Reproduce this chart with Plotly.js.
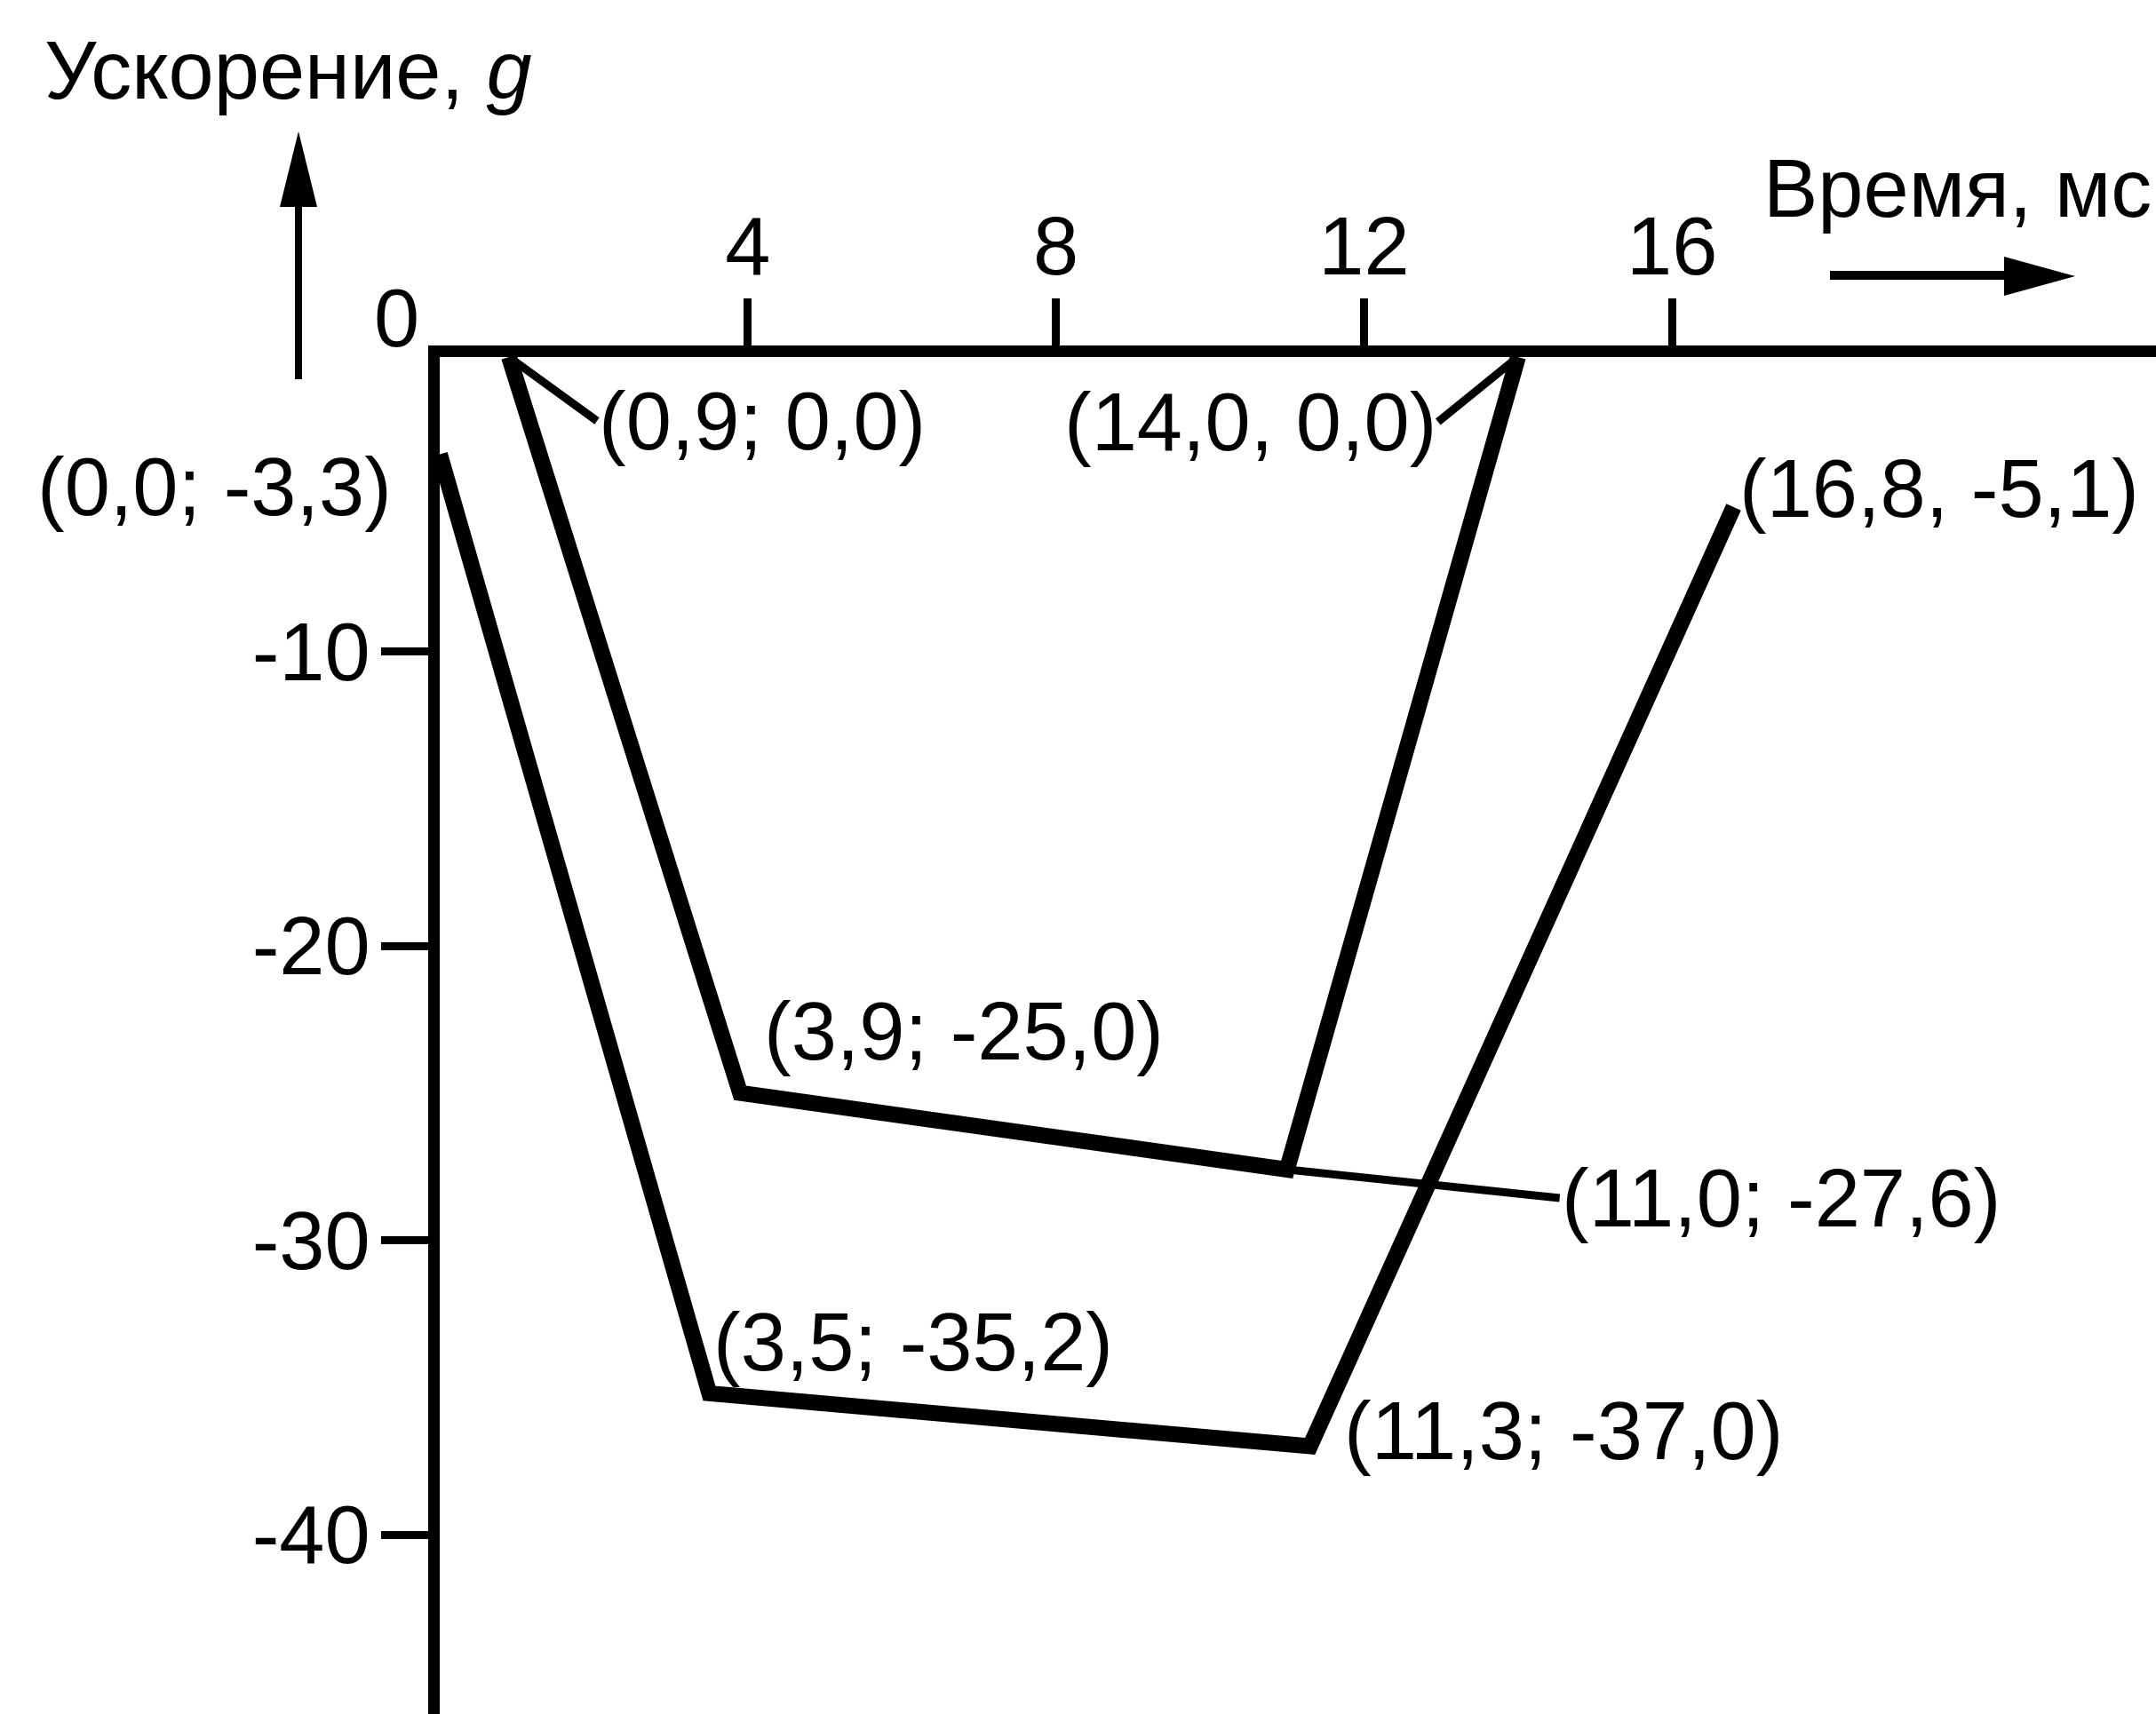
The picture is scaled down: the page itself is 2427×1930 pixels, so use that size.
<!DOCTYPE html>
<html>
<head>
<meta charset="utf-8">
<script src="https://cdn.plot.ly/plotly-3.0.1.min.js"></script>
<style>
  html, body { margin: 0; padding: 0; background: #fff; }
  #chart { width: 2427px; height: 1930px; }
</style>
</head>
<body>
<div id="chart"></div>
<script>
// outer pulse: starts at t = 0
const outerT = [0.0, 3.5, 11.3, 16.8];
const outerG = [-3.3, -35.2, -37.0, -5.1];
const outerLabels = ["(0,0; -3,3)", "(3,5; -35,2)", "(11,3; -37,0)", "(16,8, -5,1)"];

// inner pulse: starts at t = 0.9
const innerT = [0.9, 3.9, 11.0, 14.0];
const innerG = [0.0, -25.0, -27.6, 0.0];
const innerLabels = ["(0,9; 0,0)", "(3,9; -25,0)", "(11,0; -27,6)", "(14,0, 0,0)"];

const xTicks = [4, 8, 12, 16];
const yTicks = [-10, -20, -30, -40];

const W = 2427, H = 1930;
const L = 495, T = 402;          // plot area = the quadrant t >= 0, g <= 0
const PX_PER_MS = 86.7, PX_PER_G = 33.15;
const FONT = { family: "Liberation Sans, Arial, sans-serif", size: 92, color: "black" };

// pixel -> paper helpers for the decorations drawn outside the axes
const fx = (px) => (px - L) / (W - L);
const fy = (py) => (H - py) / (H - T);

// where each point label sits relative to its point (pixels)
const outerPlace = [
  { xanchor: "right", xshift: -52, yshift: -37 },
  { xanchor: "left", xshift: 3, yshift: 58 },
  { xanchor: "left", xshift: 36, yshift: 18 },
  { xanchor: "left", xshift: 4, yshift: 21 },
];
const innerPlace = [
  { xanchor: "left", ax: 99, ay: 72 },
  { xanchor: "left", xshift: 25, yshift: 70 },
  { xanchor: "left", ax: 307, ay: 32 },
  { xanchor: "right", ax: -90, ay: 73 },
];

function pointLabels(ts, gs, labels, place) {
  return ts.map((t, i) => {
    const p = place[i];
    const a = {
      x: t, y: gs[i], xref: "x", yref: "y",
      text: labels[i], font: FONT,
      xanchor: p.xanchor, yanchor: "middle",
      showarrow: false,
    };
    if (p.ax !== undefined) {
      Object.assign(a, {
        showarrow: true, ax: p.ax, ay: p.ay, arrowhead: 0,
        arrowwidth: 9, arrowcolor: "black", standoff: 6,
      });
    } else {
      a.xshift = p.xshift;
      a.yshift = p.yshift;
    }
    return a;
  });
}

const annotations = [
  ...pointLabels(outerT, outerG, outerLabels, outerPlace),
  ...pointLabels(innerT, innerG, innerLabels, innerPlace),
  { x: fx(446), y: fy(358), xref: "paper", yref: "paper", text: "0", font: FONT, showarrow: false, xanchor: "center", yanchor: "middle" },
  { x: fx(48), y: fy(79), xref: "paper", yref: "paper", text: "Ускорение, <i>g</i>", font: FONT, showarrow: false, xanchor: "left", yanchor: "middle" },
  { x: fx(2424), y: fy(212), xref: "paper", yref: "paper", text: "Время, мс", font: FONT, showarrow: false, xanchor: "right", yanchor: "middle" },
];

const shapes = [
  // up arrow next to the g title
  { type: "line", xref: "paper", yref: "paper", x0: fx(336), x1: fx(336), y0: fy(427), y1: fy(225), line: { color: "black", width: 8 } },
  { type: "path", xref: "paper", yref: "paper", fillcolor: "black", line: { width: 0 },
    path: `M${fx(315)},${fy(233)} L${fx(336)},${fy(148)} L${fx(357)},${fy(233)} Z` },
  // right arrow under the time title
  { type: "line", xref: "paper", yref: "paper", x0: fx(2060), x1: fx(2262), y0: fy(310), y1: fy(310), line: { color: "black", width: 10 } },
  { type: "path", xref: "paper", yref: "paper", fillcolor: "black", line: { width: 0 },
    path: `M${fx(2256)},${fy(289)} L${fx(2336)},${fy(311)} L${fx(2256)},${fy(333)} Z` },
];

const lineStyle = { color: "black", width: 18 };
const traces = [
  { x: outerT, y: outerG, mode: "lines", line: lineStyle, cliponaxis: false, hoverinfo: "skip" },
  { x: innerT, y: innerG, mode: "lines", line: lineStyle, cliponaxis: false, hoverinfo: "skip" },
];

const axisCommon = {
  showline: true, linewidth: 13, linecolor: "black",
  ticks: "outside", ticklen: 53, tickwidth: 9, tickcolor: "black",
  tickfont: FONT, showgrid: false, zeroline: false, fixedrange: true,
};

const layout = {
  width: W, height: H,
  margin: { l: L, r: 0, t: T, b: 0, pad: 0 },
  paper_bgcolor: "white", plot_bgcolor: "white",
  showlegend: false,
  xaxis: { ...axisCommon, side: "top", range: [0, (W - L) / PX_PER_MS],
    tickvals: xTicks, ticktext: xTicks.map(String), ticklabelstandoff: -10 },
  yaxis: { ...axisCommon, range: [-(H - T) / PX_PER_G, 0],
    tickvals: yTicks, ticktext: yTicks.map((v) => "-" + Math.abs(v)), ticklabelstandoff: -6 },
  annotations, shapes,
};

Plotly.newPlot("chart", traces, layout, { staticPlot: true, displayModeBar: false });
</script>
</body>
</html>
